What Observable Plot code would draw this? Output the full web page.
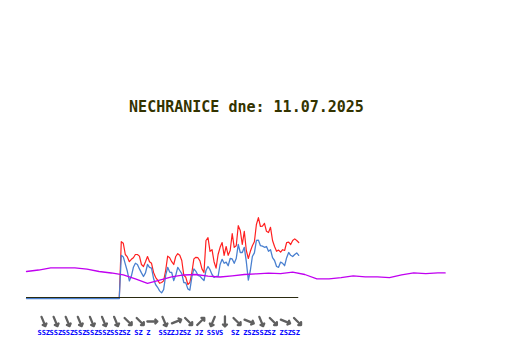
<!DOCTYPE html>
<html><head><meta charset="utf-8">
<script src="https://cdn.jsdelivr.net/npm/d3@7"></script>
<script src="https://cdn.jsdelivr.net/npm/@observablehq/plot@0.6"></script>
<style>
html,body{margin:0;padding:0;background:#fff;}
#wrap{position:relative;width:532px;height:360px;}
#title{position:absolute;left:0;top:100px;width:493px;text-align:center;font:bold 15px/15px "DejaVu Sans Mono",monospace;color:#333300;white-space:pre;z-index:2;}
</style></head><body>
<div id="wrap"><div id="title"></div></div>
<script>
// ---- data ----
const station = "NECHRANICE";
const dateLabel = "11.07.2025";

// wind measurements every 10 minutes (m/s), first reading at 7:50
const missingUntilHour = 7 + 40 / 60;   // before this the record is 0
const windStartHour = 7 + 50 / 60;
const stepHours = 1 / 6;
const gust = [7.1,6.9,5.5,5.2,4.6,4.9,5.1,5.5,5.5,5.3,
  4.25,4.0,4.6,5.25,4.6,4.4,3.25,2.65,2.3,1.9,
  2.0,2.2,3.5,5.3,5.1,4.6,4.25,5.25,5.6,5.4,
  4.75,2.9,2.65,1.75,2.0,3.25,4.95,5.15,5.1,4.7,
  3.7,3.25,7.25,7.6,5.9,6.1,4.6,3.8,5.5,6.4,
  7.0,5.4,6.5,5.4,6.0,8.1,6.4,6.6,9.1,8.5,
  6.75,8.4,6.0,5.0,5.9,6.6,7.1,9.25,10.1,9.0,
  9.05,9.4,8.4,8.25,8.9,7.25,6.5,5.9,6.05,5.8,
  6.1,6.0,7.0,7.05,6.75,7.25,7.45,7.25,7.0];
const wind = [5.4,5.2,4.3,3.4,2.2,2.8,3.9,4.4,4.25,3.7,
  3.2,2.75,3.2,4.25,3.9,3.8,2.5,1.75,1.4,0.95,
  0.7,1.1,2.9,3.9,3.3,3.25,2.25,2.9,3.9,3.5,
  3.1,2.0,1.95,1.2,1.05,2.7,3.7,3.4,2.9,2.8,
  2.5,2.25,3.5,4.0,3.6,3.0,2.65,2.75,2.75,4.25,
  4.9,4.4,4.55,4.1,5.0,4.95,4.4,5.0,6.75,5.75,
  5.75,6.4,4.6,2.3,3.5,5.25,5.7,7.25,7.3,6.6,
  6.55,6.4,6.5,5.9,6.1,5.1,4.75,4.0,3.9,4.55,
  4.4,4.1,5.1,5.75,5.4,5.25,5.5,5.7,5.4];

// third (purple) series, hourly
const purpleHours = [0,1,2,3,4,5,6,7,8,9,10,11,12,13,14,15,16,17,18,19,20,21,22,23,24,25,26,27,28,29,30,31,32,33,34,34.6];
const purpleValues = [3.375,3.56,3.84,3.84,3.84,3.66,3.375,3.19,2.94,2.44,1.9,2.31,2.69,2.94,3.0,2.79,2.69,2.84,3.0,3.09,3.16,3.1,3.3,3.0,2.46,2.46,2.6,2.84,2.7,2.7,2.6,2.96,3.2,3.1,3.2,3.2];

// hourly wind direction
const dirStartHour = 1.4;
const windDirs = ["SSZ","SSZ","SSZ","SSZ","SSZ","SSZ","SSZ","SZ","SZ","Z","SSZ","ZJZ","SZ","JZ","SSV","S","SZ","ZSZ","SSZ","SZ","ZSZ","SZ"];
const compass = {S:0,SSV:22.5,SV:45,VSV:67.5,V:90,VJV:112.5,JV:135,JJV:157.5,J:180,JJZ:202.5,JZ:225,ZJZ:247.5,Z:270,ZSZ:292.5,SZ:315,SSZ:337.5};

// ---- build ----
document.getElementById("title").textContent = `${station} dne: ${dateLabel}`;
const series = vals => [{t: 0, v: 0}, {t: missingUntilHour, v: 0},
  ...vals.map((v, i) => ({t: windStartHour + i * stepHours, v}))];
const lastHour = windStartHour + (gust.length - 1) * stepHours;
const purple = purpleHours.map((t, i) => ({t, v: purpleValues[i]}));

const chart = Plot.plot({
  width: 532, height: 360,
  marginLeft: 26, marginRight: 22, marginTop: 138, marginBottom: 62,
  x: {domain: [0, 40], axis: null},
  y: {domain: [0, 20], axis: null},
  style: {background: "#fff", overflow: "visible"},
  marks: [
    Plot.line(series(gust), {x: "t", y: "v", stroke: "#ff2020", strokeWidth: 1.2}),
    Plot.line(series(wind), {x: "t", y: "v", stroke: "#4a80d0", strokeWidth: 1.3}),
    Plot.ruleY([0], {x1: 0, x2: lastHour, stroke: "#2a2a10", strokeWidth: 1, dy: -1}),
    Plot.line(purple, {x: "t", y: "v", stroke: "#c000f0", strokeWidth: 1.3}),
    Plot.vector(windDirs, {x: (d, i) => dirStartHour + i, frameAnchor: "bottom", dy: 23,
      rotate: d => compass[d] + 180, length: 10, anchor: "middle",
      stroke: "#606060", strokeWidth: 2.3}),
    Plot.text(windDirs, {x: (d, i) => dirStartHour + i, text: d => d, frameAnchor: "bottom",
      dy: 36, dx: -6, textAnchor: "start", fill: "#0000ff", fontSize: 7,
      fontFamily: "DejaVu Sans Mono", fontWeight: "bold"})
  ]
});
document.getElementById("wrap").appendChild(chart);
</script>
</body></html>
